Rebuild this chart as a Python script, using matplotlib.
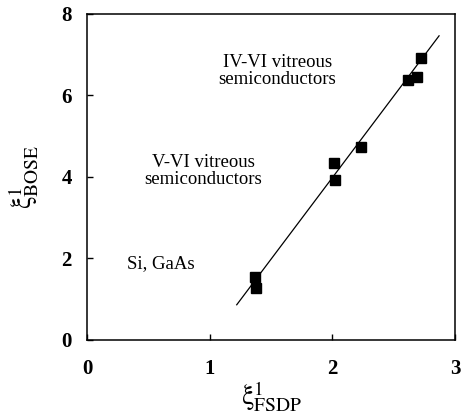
import matplotlib
matplotlib.use("Agg")
import matplotlib.pyplot as plt
import numpy as np

# data
xi_fsdp = [1.37, 1.38, 2.01, 2.02, 2.23, 2.62, 2.69, 2.72]
xi_bose = [1.55, 1.28, 4.34, 3.91, 4.72, 6.38, 6.45, 6.91]

# fitted line (y = a*x + b) between the two end points
fit_a = 4.0
fit_b = -4.02
fit_x = [1.22, 2.87]

x_ticks = [0, 1, 2, 3]
y_ticks = [0, 2, 4, 6, 8]

plt.rcParams['font.family'] = ['Liberation Serif', 'DejaVu Serif']
plt.rcParams['mathtext.fontset'] = 'stix'

fig = plt.figure(figsize=(4.61, 4.19), dpi=100)
ax = fig.add_axes([0.189, 0.189, 0.798, 0.778])

ax.plot(xi_fsdp, xi_bose, 's', color='black', markersize=7)
lx = np.array(fit_x)
ax.plot(lx, fit_a * lx + fit_b, color='black', linewidth=0.9)

ax.text(1.55, 6.6, "IV-VI vitreous\nsemiconductors", fontsize=13.5,
        ha='center', va='center', linespacing=1.0)
ax.text(0.95, 4.15, "V-VI vitreous\nsemiconductors", fontsize=13.5,
        ha='center', va='center', linespacing=1.0)
ax.text(0.6, 1.88, "Si, GaAs", fontsize=13.5, ha='center', va='center')

ax.set_xlim(0, 3)
ax.set_ylim(0, 8)
ax.set_xticks(x_ticks)
ax.set_yticks(y_ticks)
ax.tick_params(direction='in', length=4, width=1, labelsize=15)
ax.tick_params(axis='x', pad=14)
ax.tick_params(axis='y', pad=11)
for lab in ax.get_xticklabels() + ax.get_yticklabels():
    lab.set_fontweight('bold')
for s in ax.spines.values():
    s.set_linewidth(1.1)

ax.set_xlabel(r'$\mathrm{\xi}^{1}_{\mathrm{FSDP}}$', fontsize=20, labelpad=0)
ax.set_ylabel(r'$\mathrm{\xi}^{1}_{\mathrm{BOSE}}$', fontsize=20, labelpad=15)

fig.savefig("out.png", dpi=100)
